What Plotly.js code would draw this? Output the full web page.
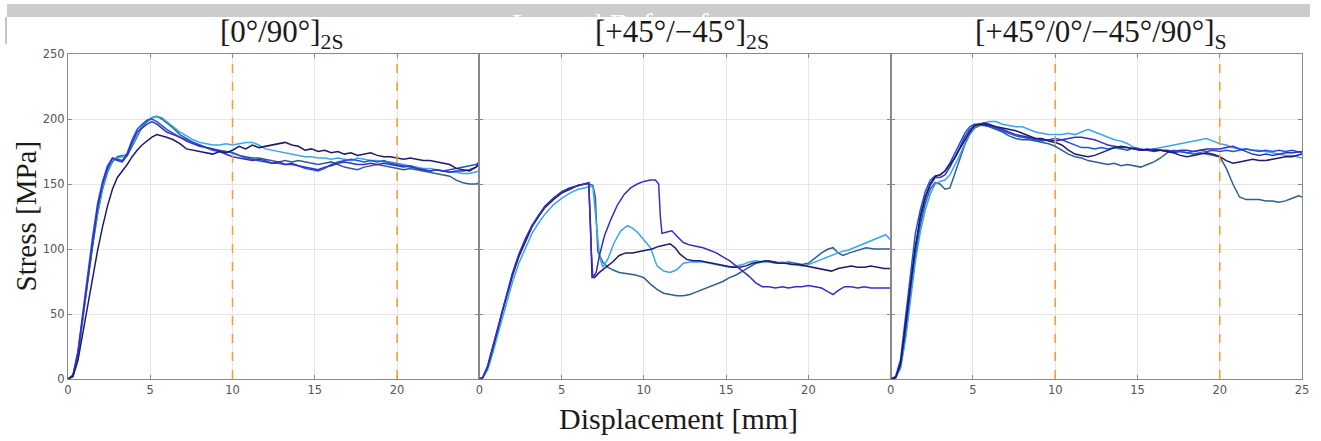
<!DOCTYPE html>
<html>
<head>
<meta charset="utf-8">
<script src="https://cdn.plot.ly/plotly-3.0.1.min.js"></script>
<style>html,body{margin:0;padding:0;background:#fff;}#chart{width:1321px;height:441px;}</style>
</head>
<body>
<div id="chart"></div>
<script>
// ---------- DATA ----------
// Panel titles
const panelTitles = ['[0°/90°]<sub>2S</sub>', '[+45°/−45°]<sub>2S</sub>', '[+45°/0°/−45°/90°]<sub>S</sub>'];
const xTitle = 'Displacement [mm]';
const yTitle = 'Stress [MPa]';
const bannerText = 'Legend Before f';
const yTicks = [0, 50, 100, 150, 200, 250];
const xTicksShort = [0, 5, 10, 15, 20];
const xTicksFull = [0, 5, 10, 15, 20, 25];
const dashedLimits = [10, 20];           // orange dashed lines, panels 1 and 3

// shared displacement grid (mm) for panels 1 and 3
const dispMM = [0,0.3,0.6,0.9,1.2,1.5,1.8,2.1,2.4,2.7,3.0,3.3,3.6,3.9,4.2,4.5,4.8,5.1,5.4,5.7,6.0,6.4,6.8,7.2,7.6,8.0,8.4,8.8,9.2,9.6,10.0,10.4,10.8,11.2,11.6,12.0,12.4,12.8,13.2,13.6,14.0,14.4,14.8,15.2,15.6,16.0,16.4,16.8,17.2,17.6,18.0,18.4,18.8,19.2,19.6,20.0,20.4,20.8,21.2,21.6,22.0,22.4,22.8,23.2,23.6,24.0,24.4,24.8,25.0];

// Panel 1: [0/90]2S
const p1_s1 = [0,2,14,36,58,79,99,117,133,146,155,160,165,171,176,180,183,186,188,187,186,184,181,177,176,175,174,173,175,174,176,179,177,180,178,179,180,181,182,180,179,176,177,175,176,174,175,173,174,172,173,174,172,171,171,170,169,170,169,168,168,167,166,165,162,161,160,163,166];
const p1_s2 = [0,3,20,48,80,108,132,150,162,170,168,167,172,182,190,193,196,198,196,193,190,188,186,183,181,179,178,177,175,173,171,170,169,168,169,168,166,167,165,166,164,163,162,161,163,164,166,167,166,165,165,166,165,166,165,164,163,164,162,161,160,161,160,159,160,160,161,163,165];
const p1_s3 = [0,2,18,45,76,104,128,147,160,168,170,171,173,180,188,195,199,201,202,201,198,194,190,187,184,182,181,180,180,181,180,181,182,182,180,177,176,175,174,173,172,171,171,170,170,169,170,169,168,170,169,168,168,167,167,166,165,164,163,162,162,161,160,159,159,158,158,159,160];
const p1_s4 = [0,2,17,44,75,103,127,146,159,167,171,172,172,179,187,194,198,201,202,200,197,193,188,185,182,180,178,177,176,175,174,172,171,170,170,169,168,167,168,167,168,167,166,165,166,167,165,163,162,161,163,164,165,164,163,162,161,162,161,160,159,158,157,156,153,151,150,150,151];
const p1_s5 = [0,3,21,50,82,110,135,152,164,170,169,168,174,184,192,196,199,200,198,195,192,189,186,184,182,180,178,176,175,175,174,172,170,169,168,167,166,166,165,165,164,162,161,160,162,165,167,168,169,168,167,168,167,168,166,165,164,163,162,161,160,161,160,161,162,163,164,165,167];

// Panel 2: [+45/-45]2S
const p2_s1_x = [0,0.2,0.5,0.8,1.1,1.4,1.7,2.0,2.4,2.8,3.2,3.6,4.0,4.5,5.0,5.5,6.0,6.4,6.65,6.75,6.85,7.0,7.3,7.7,8.1,8.5,8.9,9.3,9.7,10.1,10.5,10.9,11.3,11.6,11.9,12.2,12.6,13.0,13.4,13.8,14.2,14.6,15.0,15.4,15.8,16.2,16.6,17.0,17.4,17.8,18.2,18.6,19.0,19.4,19.8,20.2,20.6,21.0,21.4,21.8,22.2,22.6,23.0,23.4,23.8,24.2,24.6,25.0];
const p2_s1_y = [0,1,9,22,37,52,66,79,94,106,117,125,132,138,143,146,149,150,151,120,78,78,82,86,90,95,97,97,98,99,100,102,103,104,101,96,92,91,91,90,89,88,87,86,86,87,89,90,91,90,89,89,88,88,87,86,85,84,83,85,86,87,86,86,87,86,85,85];
const p2_s2_x = [0,0.2,0.5,0.8,1.1,1.4,1.7,2.0,2.4,2.8,3.2,3.6,4.0,4.5,5.0,5.5,6.0,6.4,6.65,6.8,6.9,7.1,7.3,7.6,8.0,8.4,8.8,9.2,9.6,10.0,10.4,10.7,10.9,11.0,11.1,11.4,11.7,12.0,12.4,12.8,13.2,13.6,14.0,14.4,14.8,15.2,15.6,16.0,16.4,16.8,17.2,17.6,18.0,18.4,18.8,19.2,19.6,20.0,20.4,20.8,21.2,21.5,21.8,22.2,22.6,23.0,23.4,23.8,24.2,24.6,25.0];
const p2_s2_y = [0,1,10,24,39,54,68,81,96,108,118,126,133,139,144,147,149,150,151,100,78,82,95,110,123,134,142,147,150,152,153,153,150,125,112,113,114,110,105,103,102,101,99,97,94,91,87,83,79,74,71,71,70,71,70,71,71,72,71,70,67,65,68,71,71,70,71,70,70,70,70];
const p2_s3_x = [0,0.2,0.5,0.8,1.1,1.4,1.7,2.0,2.4,2.8,3.2,3.6,4.0,4.5,5.0,5.5,6.0,6.4,6.65,6.9,7.1,7.3,7.5,7.8,8.2,8.6,9.0,9.3,9.6,10.0,10.4,10.8,11.2,11.6,12.0,12.4,12.8,13.2,13.6,14.0,14.4,14.8,15.2,15.6,16.0,16.4,16.8,17.2,17.6,18.0,18.4,18.8,19.2,19.6,20.0,20.4,20.8,21.2,21.6,22.0,22.4,22.8,23.2,23.6,24.0,24.4,24.7,25.0];
const p2_s3_y = [0,0.5,7,19,33,47,61,74,89,101,112,120,127,134,139,143,146,147,148,148,120,95,86,92,105,114,118,116,113,107,101,87,83,82,84,89,90,90,90,89,88,87,86,87,88,90,91,90,90,89,90,89,88,87,88,90,92,94,96,98,99,101,103,105,107,109,111,107];
const p2_s4_x = [0,0.2,0.5,0.8,1.1,1.4,1.7,2.0,2.4,2.8,3.2,3.6,4.0,4.5,5.0,5.5,6.0,6.4,6.65,6.9,7.05,7.2,7.5,7.8,8.1,8.5,9.0,9.5,10.0,10.4,10.8,11.2,11.6,12.0,12.4,12.8,13.2,13.6,14.0,14.4,14.8,15.2,15.6,16.0,16.4,16.8,17.2,17.6,18.0,18.4,18.8,19.2,19.6,20.0,20.4,20.8,21.2,21.5,21.8,22.1,22.5,23.0,23.5,24.0,24.5,25.0];
const p2_s4_y = [0,1,9,23,38,53,67,80,95,107,118,126,133,139,144,147,149,150,150,149,140,98,90,86,84,82,81,80,78,73,69,66,65,64,64,65,67,69,71,73,75,78,80,83,86,89,90,91,90,89,90,89,88,89,93,97,100,101,97,95,97,99,101,100,100,100];

// Panel 3: [+45/0/-45/90]S
const p3_s1 = [0,1,12,40,72,102,125,140,150,156,157,160,165,170,177,184,190,195,196,196,195,194,193,192,191,189,187,185,185,183,182,180,176,173,172,171,172,174,176,178,179,178,177,176,177,176,176,175,174,172,171,172,173,174,173,171,168,166,167,168,169,168,168,169,170,171,171,172,173];
const p3_s2 = [0,1,11,38,70,100,123,139,149,155,155,157,163,170,178,186,192,195,196,197,196,194,192,190,188,187,186,185,184,184,183,184,185,186,186,185,184,182,180,179,178,178,177,176,176,175,176,176,175,176,176,175,176,177,177,177,178,179,177,175,173,172,173,172,173,174,174,175,175];
const p3_s3 = [0,1,8,30,60,90,113,130,142,150,152,153,157,164,172,181,189,194,196,197,198,198,196,195,194,194,192,190,189,188,188,188,189,188,190,192,190,188,186,184,183,181,178,176,176,177,178,179,180,181,182,183,184,185,183,181,180,178,177,177,176,176,175,174,173,172,172,171,170];
const p3_s4 = [0,1,9,33,64,94,118,135,146,151,150,146,147,158,170,180,188,193,195,195,194,192,190,187,185,184,184,183,182,181,179,176,173,171,170,168,167,166,165,166,164,165,164,163,165,167,170,174,176,175,174,173,174,173,172,171,162,150,140,138,138,138,137,137,136,137,139,141,140];
const p3_s5 = [0,2,15,48,82,112,130,144,153,156,157,160,166,174,182,189,194,196,196,195,194,193,191,189,187,186,185,184,183,184,185,184,182,180,178,178,177,178,177,178,177,176,178,177,176,177,176,175,174,175,174,175,176,175,176,175,176,175,176,177,176,175,176,175,176,175,176,175,174];

// ---------- STYLE ----------
const colNavy = '#1f1b6b', colViolet = '#3a2cc9', colSky = '#39a6ea', colSteel = '#2f5f8c', colBlue = '#1a57d6';
const serif = 'Liberation Serif, Times New Roman, serif';
const lw = 1.5;

function tr(x, y, color, xa, ya) {
  return {x: x, y: y, type: 'scatter', mode: 'lines', xaxis: xa, yaxis: ya,
          line: {color: color, width: lw}, hoverinfo: 'skip'};
}

const traces = [
  tr(dispMM, p1_s4, colSteel, 'x', 'y'),
  tr(dispMM, p1_s3, colSky, 'x', 'y'),
  tr(dispMM, p1_s5, colBlue, 'x', 'y'),
  tr(dispMM, p1_s2, colViolet, 'x', 'y'),
  tr(dispMM, p1_s1, colNavy, 'x', 'y'),

  tr(p2_s4_x, p2_s4_y, colSteel, 'x2', 'y2'),
  tr(p2_s3_x, p2_s3_y, colSky, 'x2', 'y2'),
  tr(p2_s1_x, p2_s1_y, colNavy, 'x2', 'y2'),
  tr(p2_s2_x, p2_s2_y, colViolet, 'x2', 'y2'),

  tr(dispMM, p3_s4, colSteel, 'x3', 'y3'),
  tr(dispMM, p3_s3, colSky, 'x3', 'y3'),
  tr(dispMM, p3_s5, colBlue, 'x3', 'y3'),
  tr(dispMM, p3_s2, colViolet, 'x3', 'y3'),
  tr(dispMM, p3_s1, colNavy, 'x3', 'y3')
];

const axCol = '#8a8a8a';
const tickFont = {family: 'DejaVu Sans, sans-serif', size: 11.5, color: '#555555'};
function xa(domain, anchor, vals) {
  return {domain: domain, anchor: anchor, range: [0, 25], tickvals: vals, ticktext: vals.map(String),
          showline: true, linecolor: axCol, linewidth: 1, mirror: 'ticks', ticks: 'inside', ticklen: 4,
          tickcolor: axCol, showgrid: true, gridcolor: '#e6e6e6', gridwidth: 1, zeroline: false,
          tickfont: tickFont, fixedrange: true};
}
function ya(anchor, showLabels) {
  return {anchor: anchor, domain: [0, 1], range: [0, 250], tickvals: yTicks, ticktext: yTicks.map(String),
          showticklabels: showLabels, showline: true, linecolor: axCol, linewidth: 1, mirror: 'ticks',
          ticks: 'inside', ticklen: 4, tickcolor: axCol, showgrid: true, gridcolor: '#e6e6e6', gridwidth: 1,
          zeroline: false, tickfont: tickFont, fixedrange: true};
}

// geometry helpers (paper units)
const L = 68, R = 1302, T = 54, B = 379;
const px = v => (v - L) / (R - L);
const py = v => (B - v) / (B - T);

const shapes = [];
['x', 'x3'].forEach(function (xr) {
  const yr = xr === 'x' ? 'y' : 'y3';
  dashedLimits.forEach(function (d) {
    shapes.push({type: 'line', xref: xr, yref: yr, x0: d, x1: d, y0: 0, y1: 250,
                 line: {color: '#f0a13a', width: 1.6, dash: 'dash'}, layer: 'above'});
  });
});
// grey banner strip at top
shapes.push({type: 'rect', xref: 'paper', yref: 'paper', x0: px(7), x1: px(1310), y0: py(17), y1: py(4),
             fillcolor: '#cccccc', line: {width: 0}, layer: 'above'});
shapes.push({type: 'line', xref: 'paper', yref: 'paper', x0: px(6), x1: px(6), y0: py(44), y1: py(17),
             line: {color: '#c4c4c4', width: 2}});

const titleFont = {family: serif, size: 31, color: '#1a1a1a'};
const annotations = [
  {text: bannerText, x: px(510), y: py(5), xref: 'paper', yref: 'paper', xanchor: 'left', yanchor: 'top',
   showarrow: false, font: {family: serif, size: 30, color: '#ffffff'}},
  {text: panelTitles[0], x: px(281), y: 1, xref: 'paper', yref: 'paper', xanchor: 'center', yanchor: 'bottom',
   yshift: -2, showarrow: false, font: titleFont},
  {text: panelTitles[1], x: px(682), y: 1, xref: 'paper', yref: 'paper', xanchor: 'center', yanchor: 'bottom',
   yshift: -2, showarrow: false, font: titleFont},
  {text: panelTitles[2], x: px(1101), y: 1, xref: 'paper', yref: 'paper', xanchor: 'center', yanchor: 'bottom',
   yshift: -2, showarrow: false, font: titleFont},
  {text: yTitle, x: px(25), y: 0.5, xref: 'paper', yref: 'paper', xanchor: 'center', yanchor: 'middle',
   textangle: -90, showarrow: false, font: {family: serif, size: 29, color: '#1a1a1a'}},
  {text: xTitle, x: px(678), y: py(418), xref: 'paper', yref: 'paper', xanchor: 'center', yanchor: 'middle',
   showarrow: false, font: {family: serif, size: 30, color: '#1a1a1a'}}
];

const layout = {
  width: 1321, height: 441,
  margin: {l: L, r: 1321 - R, t: T, b: 441 - B, pad: 0},
  paper_bgcolor: '#ffffff', plot_bgcolor: '#ffffff',
  showlegend: false,
  xaxis: xa([0, 1/3], 'y', xTicksShort),
  xaxis2: xa([1/3, 2/3], 'y2', xTicksShort),
  xaxis3: xa([2/3, 1], 'y3', xTicksFull),
  yaxis: ya('x', true),
  yaxis2: ya('x2', false),
  yaxis3: ya('x3', false),
  shapes: shapes,
  annotations: annotations
};

Plotly.newPlot('chart', traces, layout, {staticPlot: true, displayModeBar: false});
</script>
</body>
</html>
